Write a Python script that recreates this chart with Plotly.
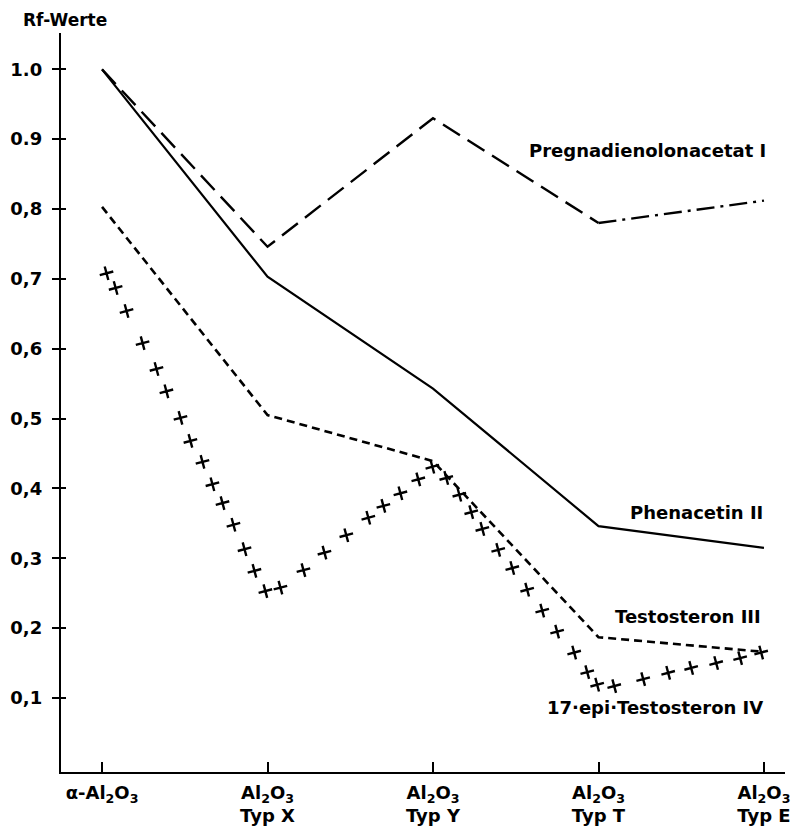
import plotly.graph_objects as go

categories = [0, 1, 2, 3, 4]
cat_labels = ["α-Al<sub>2</sub>O<sub>3</sub>",
              "Al<sub>2</sub>O<sub>3</sub><br>Typ X",
              "Al<sub>2</sub>O<sub>3</sub><br>Typ Y",
              "Al<sub>2</sub>O<sub>3</sub><br>Typ T",
              "Al<sub>2</sub>O<sub>3</sub><br>Typ E"]

pregna = [1.0, 0.746, 0.930, 0.780, 0.812]
phenacetin = [1.0, 0.703, 0.543, 0.346, 0.315]
testosteron = [0.803, 0.505, 0.439, 0.187, 0.166]

epi_x = [0.027, 0.082, 0.148, 0.245, 0.329, 0.389, 0.474, 0.534, 0.607, 0.667,
         0.728, 0.794, 0.861, 0.921, 0.987, 1.078, 1.217, 1.344, 1.476, 1.609,
         1.700, 1.803, 1.911, 1.996, 2.080, 2.159, 2.231, 2.298, 2.394, 2.479,
         2.569, 2.660, 2.750, 2.853, 2.932, 2.992, 3.095, 3.270, 3.421, 3.560,
         3.711, 3.856, 3.983]
epi_y = [0.708, 0.687, 0.654, 0.608, 0.571, 0.539, 0.501, 0.468, 0.438, 0.406,
         0.379, 0.348, 0.313, 0.282, 0.253, 0.258, 0.283, 0.308, 0.333, 0.358,
         0.375, 0.393, 0.413, 0.431, 0.415, 0.391, 0.366, 0.342, 0.312, 0.286,
         0.255, 0.225, 0.195, 0.165, 0.137, 0.119, 0.117, 0.127, 0.136, 0.143,
         0.150, 0.157, 0.165]

y_tickvals = [0.1, 0.2, 0.3, 0.4, 0.5, 0.6, 0.7, 0.8, 0.9, 1.0]
y_ticktext = ["0,1", "0,2", "0,3", "0,4", "0,5", "0,6", "0,7", "0,8", "0.9", "1.0"]

series_labels = ["Pregnadienolonacetat I", "Phenacetin II", "Testosteron III",
                 "17·epi·Testosteron IV"]

FONT = "DejaVu Sans"
fig = go.Figure()

# Pregnadienolonacetat I: long dashes, last segment dash-dot
fig.add_trace(go.Scatter(x=categories[:4], y=pregna[:4], mode="lines",
                         line=dict(color="black", width=2.4, dash="20px,9px"),
                         hoverinfo="skip"))
fig.add_trace(go.Scatter(x=categories[3:], y=pregna[3:], mode="lines",
                         line=dict(color="black", width=2.4, dash="18px,6px,3px,6px"),
                         hoverinfo="skip"))
# Phenacetin II: solid
fig.add_trace(go.Scatter(x=categories, y=phenacetin, mode="lines",
                         line=dict(color="black", width=2.2), hoverinfo="skip"))
# Testosteron III: short dashes
fig.add_trace(go.Scatter(x=categories, y=testosteron, mode="lines",
                         line=dict(color="black", width=2.6, dash="8px,5px"),
                         hoverinfo="skip"))
# 17-epi-Testosteron IV: crosses
fig.add_trace(go.Scatter(x=epi_x, y=epi_y, mode="markers",
                         marker=dict(symbol="cross-thin", size=10, color="black",
                                     angle=-15,
                                     line=dict(color="black", width=2.4)),
                         hoverinfo="skip"))
# overlay axis for inner half of y ticks
fig.add_trace(go.Scatter(x=[None], y=[None], yaxis="y2", showlegend=False))

label_pos = [(4.025, 0.884), (4.007, 0.366), (3.995, 0.217), (4.007, 0.086)]
for txt, (ax, ay) in zip(series_labels, label_pos):
    fig.add_annotation(x=ax, y=ay, text=txt, showarrow=False, xanchor="right",
                       yanchor="middle",
                       font=dict(family=FONT, size=18, color="black", weight="bold"))

fig.add_annotation(x=0.006, y=1.0, xref="x domain", yref="y domain", text="Rf-Werte",
                   showarrow=False, xanchor="center", yanchor="bottom", yshift=1,
                   font=dict(family=FONT, size=17, color="black", weight="bold"))

yr = [-0.006, 1.052]
fig.update_layout(
    width=794, height=820,
    margin=dict(l=53, r=17, t=25, b=56),
    paper_bgcolor="white", plot_bgcolor="white",
    showlegend=False,
    xaxis=dict(range=[-0.248, 4.127], tickvals=categories, ticktext=cat_labels,
               showgrid=False, zeroline=False, showline=True, linecolor="black",
               linewidth=2.4, ticks="inside", ticklen=10, tickwidth=2, tickcolor="black",
               tickfont=dict(family=FONT, size=18, color="black", weight="bold"),
               ticklabelstandoff=3, automargin=False),
    yaxis=dict(range=yr, tickvals=y_tickvals, ticktext=y_ticktext,
               showgrid=False, zeroline=False, showline=True, linecolor="black",
               linewidth=2.4, ticks="outside", ticklen=7, tickwidth=2, tickcolor="black",
               tickfont=dict(family=FONT, size=18, color="black", weight="bold"),
               ticklabelstandoff=6, automargin=False),
    yaxis2=dict(range=yr, overlaying="y", tickvals=y_tickvals, showticklabels=False,
                showgrid=False, zeroline=False, showline=False, ticks="inside",
                ticklen=5, tickwidth=2, tickcolor="black", side="left",
                automargin=False),
)

fig.write_html("out.html")
